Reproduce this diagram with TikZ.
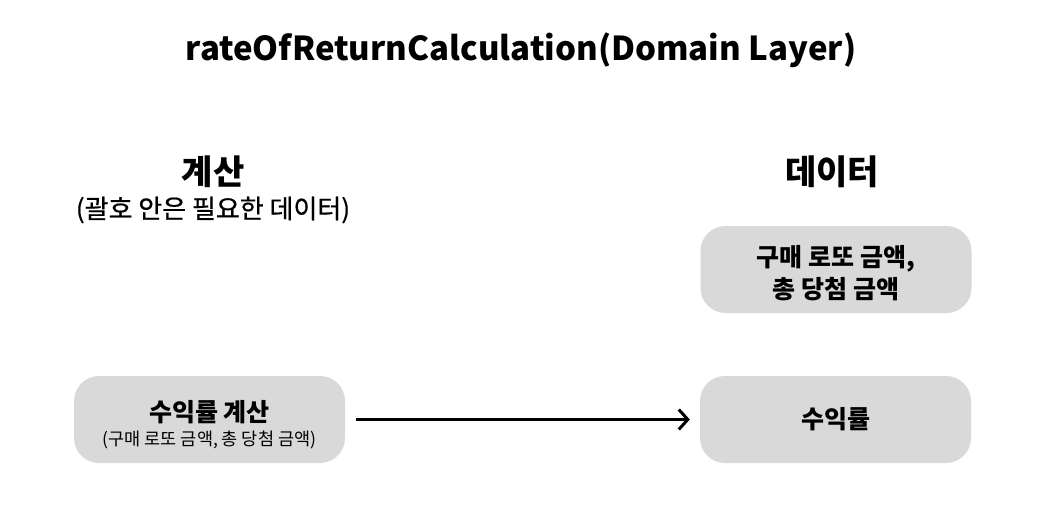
\documentclass[tikz,border=0pt]{standalone}
\usepackage{fontspec}
\setmainfont{Noto Sans CJK KR}
\newfontfamily\medfont[FakeBold=0.6]{Noto Sans CJK KR}
\usetikzlibrary{positioning,arrows.meta}
\tikzset{
  databox/.style={fill={rgb,255:red,217;green,217;blue,217},rounded corners=25pt,minimum width=271pt,minimum height=87pt,align=center,inner sep=0pt},
  heading/.style={font=\fontsize{34}{38}\selectfont\bfseries}
}
\begin{document}
\begin{tikzpicture}[x=1pt,y=-1pt]
\useasboundingbox (0,0) rectangle (1054,506);
\node[font=\fontsize{33}{38}\selectfont\bfseries] (title) at (521,50) {rateOfReturnCalculation(Domain Layer)};
\node[heading] (calc) at (213,172) {계산};
\node[font=\fontsize{26}{30}\selectfont\medfont] (calcnote) at (213,210) {(괄호 안은 필요한 데이터)};
\node[heading] (data) at (832,172) {데이터};

% data boxes
\node[databox,font=\fontsize{25}{32}\selectfont\bfseries] (amounts) at (836,269.5) {\rule{0pt}{28pt}구매 로또 금액,\\ 총 당첨 금액};
\node[databox,font=\fontsize{25}{26}\selectfont] (calcbox) at (209.5,419.5) {\rule{0pt}{32pt}{\bfseries 수익률 계산}\\[-2pt]{\fontsize{17.5}{20}\selectfont (구매 로또 금액, 총 당첨 금액)}};
\node[databox,font=\fontsize{25}{30}\selectfont\bfseries] (rate) at (835.5,419.5) {수익률};

\draw[line width=3pt,-{Straight Barb[length=9pt,width=20pt]}] ([xshift=11pt]calcbox.east) -- ([xshift=-10pt]rate.west);
\end{tikzpicture}
\end{document}
